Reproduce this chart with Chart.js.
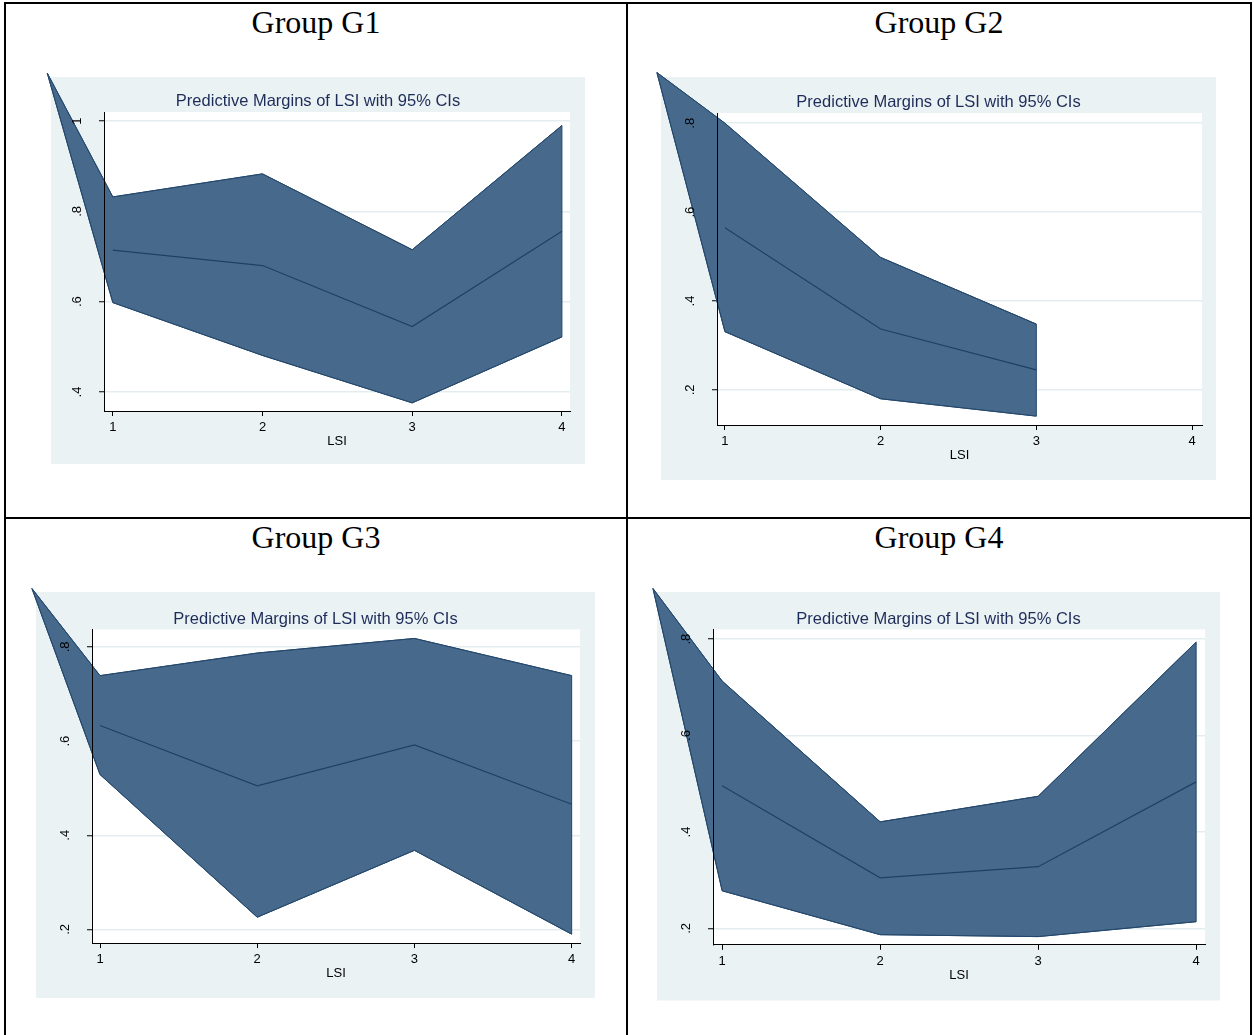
<!DOCTYPE html>
<html>
<head>
<meta charset="utf-8">
<script src="https://cdn.jsdelivr.net/npm/chart.js@4.4.1/dist/chart.umd.min.js"></script>
<style>
  html, body { margin: 0; padding: 0; background: #fff; }
  body { width: 1254px; height: 1035px; position: relative; overflow: hidden; }
  .rule { position: absolute; background: #000; }
  .head { position: absolute; text-align: center; color: #000;
          font: 32px 'Liberation Serif', 'Times New Roman', serif; line-height: 32px; }
  canvas { position: absolute; }
</style>
</head>
<body>
<div class="rule" style="left:4px;top:2px;width:1248px;height:2px"></div>
<div class="rule" style="left:4px;top:2px;width:2px;height:1033px"></div>
<div class="rule" style="left:626px;top:2px;width:2px;height:1033px"></div>
<div class="rule" style="left:1250px;top:2px;width:2px;height:1033px"></div>
<div class="rule" style="left:4px;top:517px;width:1248px;height:2px"></div>

<div class="head" style="left:6px;top:6px;width:620px">Group G1</div>
<div class="head" style="left:628px;top:6px;width:622px">Group G2</div>
<div class="head" style="left:6px;top:521px;width:620px">Group G3</div>
<div class="head" style="left:628px;top:521px;width:622px">Group G4</div>

<script>
// ── data ──────────────────────────────────────────────────────────────
const TITLE = 'Predictive Margins of LSI with 95% CIs';
const xTicks      = [1, 2, 3, 4];
const xTickLabels = ['1', '2', '3', '4'];

const g1X     = [1, 2, 3, 4];
const g1Upper = [0.832, 0.883, 0.715, 0.990];
const g1Mid   = [0.714, 0.680, 0.545, 0.756];
const g1Lower = [0.598, 0.481, 0.376, 0.522];
const g1YTicks  = [0.4, 0.6, 0.8, 1];
const g1YLabels = ['.4', '.6', '.8', '1'];

const g2X     = [1, 2, 3];
const g2Upper = [0.800, 0.498, 0.348];
const g2Mid   = [0.565, 0.337, 0.245];
const g2Lower = [0.331, 0.180, 0.141];

const g3X     = [1, 2, 3, 4];
const g3Upper = [0.739, 0.787, 0.818, 0.739];
const g3Mid   = [0.633, 0.505, 0.592, 0.466];
const g3Lower = [0.529, 0.226, 0.368, 0.190];

const g4X     = [1, 2, 3, 4];
const g4Upper = [0.713, 0.421, 0.474, 0.794];
const g4Mid   = [0.496, 0.305, 0.328, 0.504];
const g4Lower = [0.278, 0.187, 0.183, 0.214];

const yTicks  = [0.2, 0.4, 0.6, 0.8];
const yLabels = ['.2', '.4', '.6', '.8'];

// stray corner vertex of the CI area (export artefact in the original)
const spikeX = [0.562, 0.563, 0.567, 0.562];
const spikeY = [1.106, 0.914, 0.924, 0.905];

const xRanges = [[0.941, 4.054], [0.949, 4.064], [0.949, 4.053], [0.942, 4.056]];
const yRanges = [[0.358, 1.020], [0.121, 0.823], [0.171, 0.837], [0.166, 0.820]];

// ── look ──────────────────────────────────────────────────────────────
const C = {
  bg:    '#EAF2F3',
  band:  '#476A8C',
  edge:  '#24486D',
  line:  '#1F4066',
  grid:  '#E3EDEF',
  title: '#1E2C5A',
  text:  '#000000',
};
const SANS = "'Liberation Sans', Arial, sans-serif";

// page boxes: light panel and plot region, [left, top, right, bottom]
const frames = [
  { bg: [51, 77, 585, 464],      plot: [104, 112, 570, 411],   titleY: 101 },
  { bg: [661, 77, 1216, 480],    plot: [717, 113, 1202, 425],  titleY: 102 },
  { bg: [36, 591.5, 595, 997.5], plot: [92, 629, 580, 942.6],  titleY: 618.6 },
  { bg: [657, 591.5, 1220, 1000], plot: [713, 629, 1205, 944.3], titleY: 618.6 },
];

const panelBg = {
  id: 'panelBg',
  beforeDraw(chart, args, o) {
    const { ctx, chartArea: a } = chart;
    ctx.save();
    ctx.fillStyle = C.bg;
    ctx.fillRect(o.x, o.y, o.w, o.h);
    ctx.fillStyle = '#fff';
    ctx.fillRect(a.left, a.top, a.right - a.left, a.bottom - a.top);
    ctx.restore();
  }
};

// CI area: polygon through upper points then lower points reversed
const bandFill = {
  id: 'bandFill',
  beforeDatasetsDraw(chart) {
    const up = chart.getDatasetMeta(0).data;
    const lo = chart.getDatasetMeta(1).data;
    const ctx = chart.ctx;
    ctx.save();
    ctx.beginPath();
    up.forEach((p, i) => i ? ctx.lineTo(p.x, p.y) : ctx.moveTo(p.x, p.y));
    for (let i = lo.length - 1; i >= 0; i--) ctx.lineTo(lo[i].x, lo[i].y);
    ctx.closePath();
    ctx.fillStyle = C.band;
    ctx.fill();
    ctx.lineWidth = 1;
    ctx.strokeStyle = C.edge;
    ctx.stroke();
    ctx.restore();
  }
};

function build(i, s) {
  const f  = frames[i];
  const cL = f.bg[0] - 24, cT = f.bg[1] - 12;
  const cW = Math.round(f.bg[2] - f.bg[0] + 48), cH = Math.round(f.bg[3] - f.bg[1] + 12);

  const canvas = document.createElement('canvas');
  canvas.width = cW; canvas.height = cH;
  canvas.style.left = cL + 'px'; canvas.style.top = cT + 'px';
  canvas.style.width = cW + 'px'; canvas.style.height = cH + 'px';
  document.body.appendChild(canvas);

  const aL = f.plot[0] - cL, aR = f.plot[2] - cL, aT = f.plot[1] - cT, aB = f.plot[3] - cT;
  const side = cW - aR;
  const yW = aL - side;
  const xH = 44;
  const tLH = 16.5 * 1.2;
  const tTop = f.titleY - cT - tLH / 2;
  const tBot = aT - tTop - tLH;

  const pts = ys => [{ x: spikeX[i], y: spikeY[i] }].concat(s.x.map((x, k) => ({ x, y: ys[k] })));

  new Chart(canvas, {
    type: 'line',
    data: {
      datasets: [
        { data: pts(s.upper), borderColor: C.edge, borderWidth: 1, pointRadius: 0, fill: false, clip: false },
        { data: pts(s.lower), borderColor: C.edge, borderWidth: 1, pointRadius: 0, fill: false, clip: false },
        { data: s.x.map((x, k) => ({ x, y: s.mid[k] })), borderColor: C.line, borderWidth: 1.2, pointRadius: 0, fill: false },
      ],
    },
    options: {
      responsive: false, animation: false, events: [],
      layout: { padding: { left: side, right: side, top: 0, bottom: cH - aB - xH } },
      plugins: {
        legend: { display: false },
        tooltip: { enabled: false },
        title: {
          display: true, text: TITLE, color: C.title,
          font: { family: SANS, size: 16.5, weight: 'normal' },
          padding: { top: tTop, bottom: tBot },
        },
        panelBg: { x: 24, y: 12, w: f.bg[2] - f.bg[0], h: f.bg[3] - f.bg[1] },
      },
      scales: {
        x: {
          type: 'linear', min: xRanges[i][0], max: xRanges[i][1],
          afterFit: sc => { sc.height = xH; },
          afterBuildTicks: sc => { sc.ticks = xTicks.map(v => ({ value: v })); },
          grid: { drawOnChartArea: false, tickLength: 5, tickColor: '#000', tickWidth: 1 },
          border: { color: '#000', width: 1, z: 1 },
          ticks: { color: C.text, font: { family: SANS, size: 13 }, padding: 4, maxRotation: 0, z: 1,
                   callback: (v, k) => xTickLabels[k] },
          title: { display: true, text: 'LSI', color: C.text, font: { family: SANS, size: 13 },
                   padding: { top: 0, bottom: xH - 30.5 - 7.8 } },
        },
        y: {
          type: 'linear', min: yRanges[i][0], max: yRanges[i][1],
          afterFit: sc => { sc.width = yW; },
          afterBuildTicks: sc => { sc.ticks = s.yTicks.map(v => ({ value: v })); },
          grid: { color: C.grid, lineWidth: 1.5, tickLength: 5, tickColor: '#000', tickWidth: 1 },
          border: { color: '#000', width: 1, z: 1 },
          ticks: { color: C.text, font: { family: SANS, size: 13 }, minRotation: 90, maxRotation: 90,
                   crossAlign: 'center', padding: 16.6, z: 1,
                   callback: (v, k) => s.yLabels[k] },
        },
      },
    },
    plugins: [panelBg, bandFill],
  });
}

build(0, { x: g1X, upper: g1Upper, mid: g1Mid, lower: g1Lower, yTicks: g1YTicks, yLabels: g1YLabels });
build(1, { x: g2X, upper: g2Upper, mid: g2Mid, lower: g2Lower, yTicks: yTicks, yLabels: yLabels });
build(2, { x: g3X, upper: g3Upper, mid: g3Mid, lower: g3Lower, yTicks: yTicks, yLabels: yLabels });
build(3, { x: g4X, upper: g4Upper, mid: g4Mid, lower: g4Lower, yTicks: yTicks, yLabels: yLabels });
</script>
</body>
</html>
